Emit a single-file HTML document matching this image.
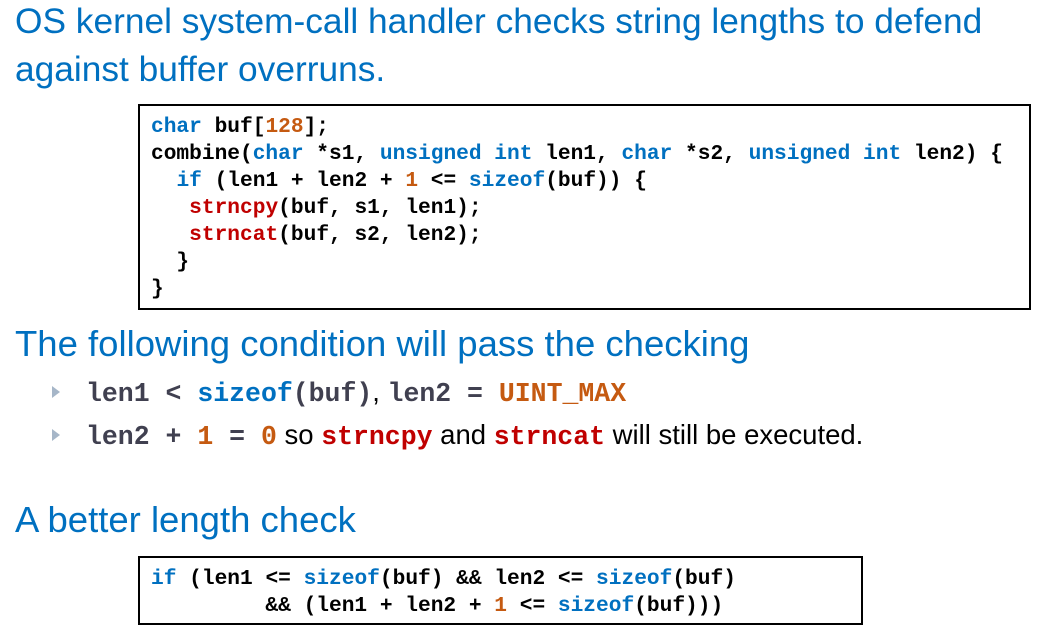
<!DOCTYPE html>
<html><head><meta charset="utf-8"><style>
body{margin:0;width:1055px;height:642px;background:#fff;position:relative;overflow:hidden;font-family:"Liberation Sans",sans-serif}
.t{position:absolute;color:#0070c0;font-size:35.3px;white-space:nowrap;line-height:48px}
.h{font-size:36.5px}
.box{position:absolute;border:2px solid #000;box-sizing:border-box}
pre{margin:0;font-family:"Liberation Mono",monospace;font-weight:bold;font-size:21.2px;line-height:27px;color:#000}
.k{color:#0070c0}.n{color:#c55a11}.r{color:#c00000}
.b{position:absolute;left:52px;font-size:27.5px;white-space:nowrap;color:#000}
.b .m{font-family:"Liberation Mono",monospace;font-weight:bold;font-size:26.5px;color:#404050}
.b .m.r{color:#c00000}
.b .m .k{color:#0070c0}.b .m .n{color:#c55a11}
.tri{display:inline-block;width:0;height:0;border-left:8px solid #a6b6c8;border-top:6px solid transparent;border-bottom:6px solid transparent;margin-right:26px;vertical-align:3px}
</style></head><body>
<div class="t" style="left:15px;top:-2px">OS kernel system-call handler checks string lengths to defend<br>against buffer overruns.</div>
<div class="box" style="left:138px;top:104px;width:893px;height:206px;padding:8px 0 0 11px">
<pre><span class="k">char</span> buf[<span class="n">128</span>];
combine(<span class="k">char</span> *s1, <span class="k">unsigned int</span> len1, <span class="k">char</span> *s2, <span class="k">unsigned int</span> len2) {
  <span class="k">if</span> (len1 + len2 + <span class="n">1</span> &lt;= <span class="k">sizeof</span>(buf)) {
   <span class="r">strncpy</span>(buf, s1, len1);
   <span class="r">strncat</span>(buf, s2, len2);
  }
}</pre></div>
<div class="t h" style="left:15px;top:320px">The following condition will pass the checking</div>
<div class="b" style="top:376px"><span class="tri"></span><span class="m">len1 &lt; <span class="k">sizeof</span>(buf)</span>, <span class="m">len2 = <span class="n">UINT_MAX</span></span></div>
<div class="b" style="top:419px"><span class="tri"></span><span class="m">len2 + <span class="n">1</span> = <span class="n">0</span></span> so <span class="m r">strncpy</span> and <span class="m r">strncat</span> will still be executed.</div>
<div class="t h" style="left:15px;top:496px">A better length check</div>
<div class="box" style="left:138px;top:556px;width:725px;height:69px;padding:8px 0 0 11px">
<pre><span class="k">if</span> (len1 &lt;= <span class="k">sizeof</span>(buf) &amp;&amp; len2 &lt;= <span class="k">sizeof</span>(buf)
         &amp;&amp; (len1 + len2 + <span class="n">1</span> &lt;= <span class="k">sizeof</span>(buf)))</pre></div>
</body></html>
